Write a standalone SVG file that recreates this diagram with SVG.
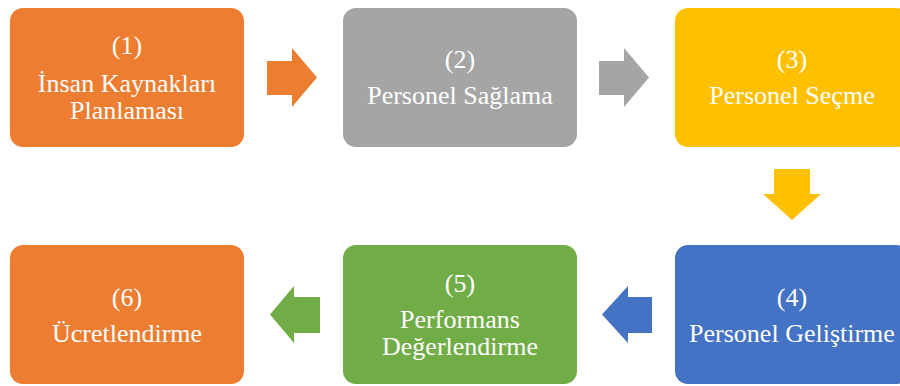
<svg xmlns="http://www.w3.org/2000/svg" width="900" height="386" viewBox="0 0 900 386">
<style>
.t{font-family:"Liberation Serif","Times New Roman",serif;font-size:26px;fill:#fff;text-anchor:middle}
.o{fill:#ED7D31}.g{fill:#A5A5A5}.y{fill:#FFC000}.b{fill:#4472C4}.gr{fill:#70AD47}
</style>
<rect width="900" height="386" fill="#fff"/>
<g id="n1"><rect class="o" x="10" y="8" width="234" height="139" rx="13"/>
<text class="t" x="127" y="54">(1)</text><text class="t" x="127" y="92">İnsan Kaynakları</text><text class="t" x="127" y="119">Planlaması</text></g>
<g id="n2"><rect class="g" x="343" y="8" width="234" height="139" rx="13"/>
<text class="t" x="460" y="68">(2)</text><text class="t" x="460" y="104">Personel Sağlama</text></g>
<g id="n3"><rect class="y" x="675" y="8" width="234" height="139" rx="13"/>
<text class="t" x="792" y="68">(3)</text><text class="t" x="792" y="104">Personel Seçme</text></g>
<g id="n4"><rect class="b" x="675" y="245" width="234" height="139" rx="13"/>
<text class="t" x="792" y="306">(4)</text><text class="t" x="792" y="342">Personel Geliştirme</text></g>
<g id="n5"><rect class="gr" x="343" y="245" width="234" height="139" rx="13"/>
<text class="t" x="460" y="292">(5)</text><text class="t" x="460" y="328">Performans</text><text class="t" x="460" y="355">Değerlendirme</text></g>
<g id="n6"><rect class="o" x="10" y="245" width="234" height="139" rx="13"/>
<text class="t" x="127" y="306">(6)</text><text class="t" x="127" y="342">Ücretlendirme</text></g>
<g id="connectors">
<polygon class="o" points="267,61 292,61 292,48 317,77.5 292,107 292,95 267,95"/>
<polygon class="g" points="599,61 624,61 624,48 649,77.5 624,107 624,95 599,95"/>
<polygon class="y" points="774,169 810,169 810,194 821,194 792,220 763,194 774,194"/>
<polygon class="b" points="652,297 628,297 628,286 602,314.5 628,343 628,333 652,333"/>
<polygon class="gr" points="320,297 294,297 294,286 270,314.5 294,343 294,333 320,333"/>
</g>
</svg>
